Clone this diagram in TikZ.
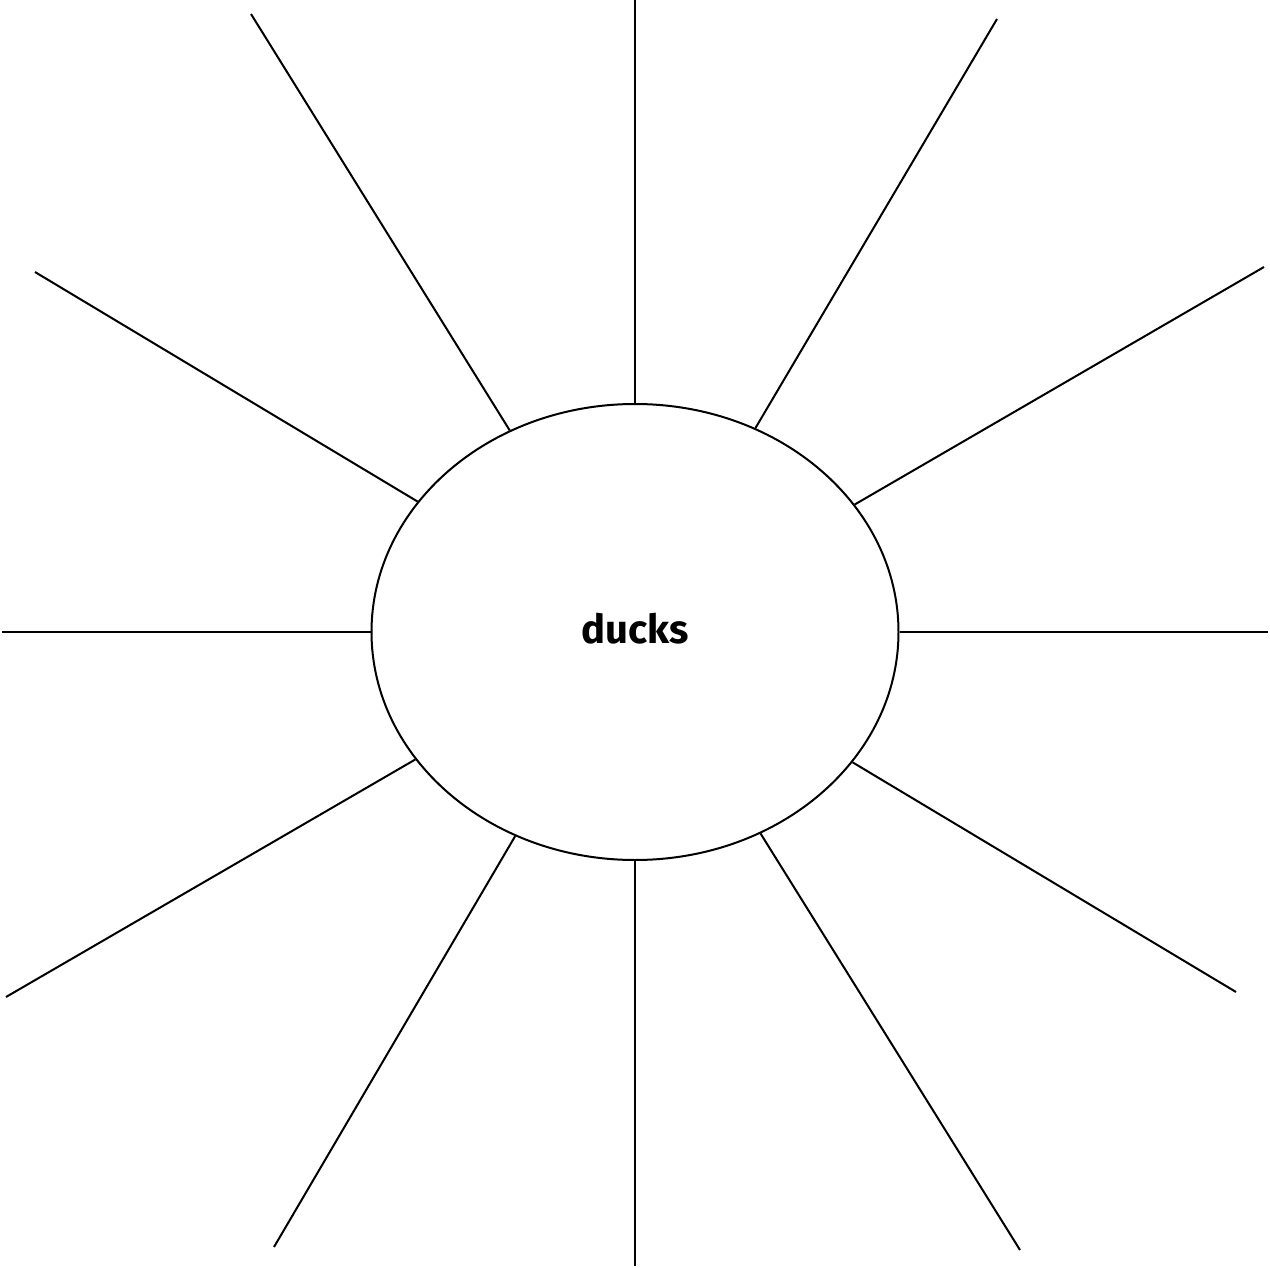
\documentclass[tikz,border=0pt]{standalone}
\usepackage{fontspec}
\setmainfont{Fira Sans}
\usetikzlibrary{shapes.geometric}
\begin{document}
\begin{tikzpicture}[x=1pt,y=-1pt,
  spoke/.style={draw=black,line width=2pt},
  hub/.style={ellipse,draw=black,line width=2pt,minimum width=527pt,minimum height=456pt,inner sep=0pt,
    font=\fontsize{40}{46}\selectfont\bfseries}]
\useasboundingbox (0,0) rectangle (1270,1268);
\node[hub] (c) at (635,632) {};
\node[font=\fontsize{40}{46}\selectfont\bfseries] (t) at (635,629) {ducks};
\coordinate (o1) at (635,0);
\coordinate (o2) at (997,19);
\coordinate (o3) at (1264,267);
\coordinate (o4) at (1268,632);
\coordinate (o5) at (1236,992);
\coordinate (o6) at (1020,1250);
\coordinate (o7) at (635,1266);
\coordinate (o8) at (274,1247);
\coordinate (o9) at (6,997);
\coordinate (o10) at (2,632);
\coordinate (o11) at (35,272);
\coordinate (o12) at (251,14);
\foreach \i in {1,...,12} \draw[spoke] (o\i) -- (c);
\end{tikzpicture}
\end{document}
